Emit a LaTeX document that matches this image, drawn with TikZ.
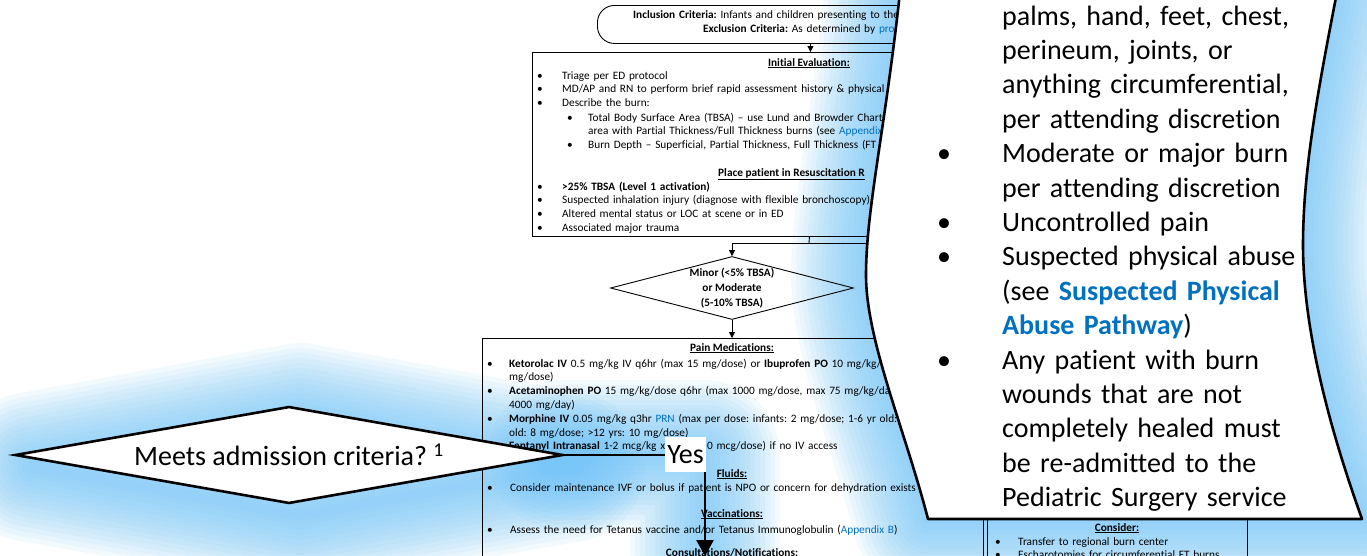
\documentclass[tikz,border=0pt]{standalone}
\usepackage{fontspec}
\setmainfont{Carlito}[Ligatures=NoCommon]
\usetikzlibrary{shapes.geometric, arrows.meta}
\frenchspacing

\definecolor{linkblue}{RGB}{0,112,192}
\definecolor{glowblue}{RGB}{112,198,248}

% bullets: small flowchart bullet (optional gap) and large criteria bullet
\newcommand\fbul[1][25pt]{\leavevmode\llap{\makebox[#1][l]{•}}}
\newcommand\cbul{\leavevmode\llap{\makebox[65pt][l]{•}}}

% soft halo built from stacked translucent strokes
\newcommand\glowlayers[1]{%
  \foreach \gw in {150,140,...,10}{%
    \draw[glowstroke, line width=\gw pt, opacity=0.08] #1;}}

% outline of the criteria card
\newcommand\calloutpath{(900,-8) .. controls (885,130) and (866,210) .. (866,275)
  .. controls (866,340) and (905,430) .. (928,519) -- (1362,519)
  .. controls (1330,430) and (1303,330) .. (1303,245)
  .. controls (1303,170) and (1318,90) .. (1337,-8) -- cycle}

\tikzset{
  glowstroke/.style={draw=glowblue, line join=round, line cap=round},
  fline/.style={font=\fontsize{11.3}{13.8}\selectfont, inner sep=0pt,
    anchor=base west, align=left, text width=560pt},
  ftitle/.style={font=\fontsize{11.3}{13.8}\selectfont\bfseries, inner sep=0pt, anchor=base},
  fbox/.style={draw, line width=0.9pt, inner sep=0pt, anchor=north west},
  fconn/.style={line width=0.9pt},
  farrow/.style={line width=0.9pt, -{Triangle[length=6pt,width=6pt]}},
  fdiamond/.style={draw, line width=0.9pt, diamond, aspect=3.86, inner sep=0pt,
    minimum width=243pt, minimum height=63pt, align=center,
    font=\fontsize{11.3}{14.8}\selectfont\bfseries},
  big/.style={font=\fontsize{28}{34.4}\selectfont},
  bigline/.style={line width=2.6pt},
  meetsdia/.style={draw, fill=white, diamond, bigline, aspect=5.65, inner sep=0pt,
    minimum width=548pt, minimum height=97pt, big},
}

\begin{document}
\begin{tikzpicture}[x=1pt, y=-1pt]
\useasboundingbox (0,0) rectangle (1367,555);
\clip (0,0) rectangle (1367,555);
\fill[white] (0,0) rectangle (1367,555);

% ---- halos behind everything ----
\glowlayers{\calloutpath}
\glowlayers{(32,467) -- (300,418) -- (570,467) -- (300,515) -- cycle}
\glowlayers{(563,455) -- (705,455) -- (705,555)}

% ---- burn pathway flowchart ----
\node[fbox, rounded corners=17pt, minimum width=426pt, minimum height=38pt] (incl) at (597,5) {};
\node[fline] (incltxt) at (633,18) {\textbf{Inclusion Criteria:} Infants and children presenting to the};
\node[fline] (excltxt) at (703,32) {\textbf{Exclusion Criteria:} As determined by \textcolor{linkblue}{pro}};

\node[fbox, minimum width=554pt, minimum height=184pt] (eval) at (532,52) {};
\draw[farrow] (incl.south) -- (incl.south |- eval.north);

\node[ftitle] (evalttl) at (809,66) {\underline{Initial Evaluation:}};
\node[fline] (evalA) at (562,79) {\fbul Triage per ED protocol\\
  \fbul MD/AP and RN to perform brief rapid assessment history \& physical\\
  \fbul Describe the burn:};
\node[fline] (evalB) at (588,121) {\fbul[21pt]Total Body Surface Area (TBSA) – use Lund and Browder Chart\\
  area with Partial Thickness/Full Thickness burns (see \textcolor{linkblue}{Appendix}\\
  \fbul[21pt]Burn Depth – Superficial, Partial Thickness, Full Thickness (FT};
\node[ftitle, anchor=base west] (resusttl) at (718,176) {\underline{Place patient in Resuscitation R}};
\node[fline] (evalC) at (562,190) {\fbul\textbf{>25\% TBSA (Level 1 activation)}\\
  \fbul Suspected inhalation injury (diagnose with flexible bronchoscopy)\\
  \fbul Altered mental status or LOC at scene or in ED\\
  \fbul Associated major trauma};

\node[fdiamond] (minor) at (732,288) {Minor (<5\% TBSA)\\or Moderate\\(5-10\% TBSA)};
\coordinate (evalout) at (809,243);
\coordinate (splitL) at (732,243);
\coordinate (splitR) at (900,243);
\draw[fconn] (eval.south) -- (evalout);
\draw[fconn] (splitR) -- (splitL);
\draw[farrow] (splitL) -- (minor.north);

\node[fbox, minimum width=501pt, minimum height=260pt] (pain) at (482,338) {};
\draw[farrow] (minor.south) -- (minor.south |- pain.north);

\node[ftitle] (painttl) at (732,351) {\underline{Pain Medications:}};
\node[fline] (painA) at (509,367) {\fbul[22pt]\textbf{Ketorolac IV} 0.5 mg/kg IV q6hr (max 15 mg/dose) or \textbf{Ibuprofen PO} 10 mg/kg/do\\
  mg/dose)\\
  \fbul[22pt]\textbf{Acetaminophen PO} 15 mg/kg/dose q6hr (max 1000 mg/dose, max 75 mg/kg/day\\
  4000 mg/day)\\
  \fbul[22pt]\textbf{Morphine IV} 0.05 mg/kg q3hr \textcolor{linkblue}{PRN} (max per dose: infants: 2 mg/dose; 1-6 yr old: 4\\
  old: 8 mg/dose; >12 yrs: 10 mg/dose)\\
  \fbul[22pt]\textbf{Fentanyl Intranasal} 1-2 mcg/kg x};
\node[fline] (painB) at (707,449.8) {0 mcg/dose) if no IV access};
\node[ftitle] (fluidttl) at (732,477) {\underline{Fluids:}};
\node[fline] (fluidA) at (510,491) {\fbul[23pt]Consider maintenance IVF or bolus if patient is NPO or concern for dehydration exists};
\node[ftitle] (vaccttl) at (732,517) {\underline{Vaccinations:}};
\node[fline] (vaccA) at (510,533) {\fbul[23pt]Assess the need for Tetanus vaccine and/or Tetanus Immunoglobulin (\textcolor{linkblue}{Appendix B})};
\node[ftitle] (consttl) at (732,556) {\underline{Consultations/Notifications:}};

\node[fbox, minimum width=260pt, minimum height=80pt] (consbox) at (987,500) {};
\node[ftitle] (considttl) at (1117,531) {\underline{Consider:}};
\node[fline] (considA) at (1018,545) {\fbul[23pt]Transfer to regional burn center\\
  \fbul[23pt]Escharotomies for circumferential FT burns};

% ---- admission decision ----
\node[meetsdia] (meets) at (289,455) {Meets admission criteria? \textsuperscript{1}};
\coordinate (yesturn) at (705,455);
\coordinate (yesend) at (705,556);
\draw[bigline, -{Triangle[length=16pt,width=17pt]}] (meets.east) -- (yesturn) -- (yesend);
\node[fill=white, inner sep=0pt, minimum width=41pt, minimum height=35pt, big] (yes) at (685.5,454.5) {Yes};

% ---- admission criteria card ----
\fill[white] \calloutpath;
\draw[bigline, line join=round] \calloutpath;
\node[big, anchor=base west, align=left, text width=340pt, inner sep=0pt] (crit) at (1002,25) {%
  palms, hand, feet, chest,\\
  perineum, joints, or\\
  anything circumferential,\\
  per attending discretion\\
  \cbul Moderate or major burn\\
  per attending discretion\\
  \cbul Uncontrolled pain\\
  \cbul Suspected physical abuse\\
  (see \textcolor{linkblue}{\textbf{Suspected Physical}}\\
  \textcolor{linkblue}{\textbf{Abuse Pathway}})\\
  \cbul Any patient with burn\\
  wounds that are not\\
  completely healed must\\
  be re-admitted to the\\
  Pediatric Surgery service};
\end{tikzpicture}
\end{document}
